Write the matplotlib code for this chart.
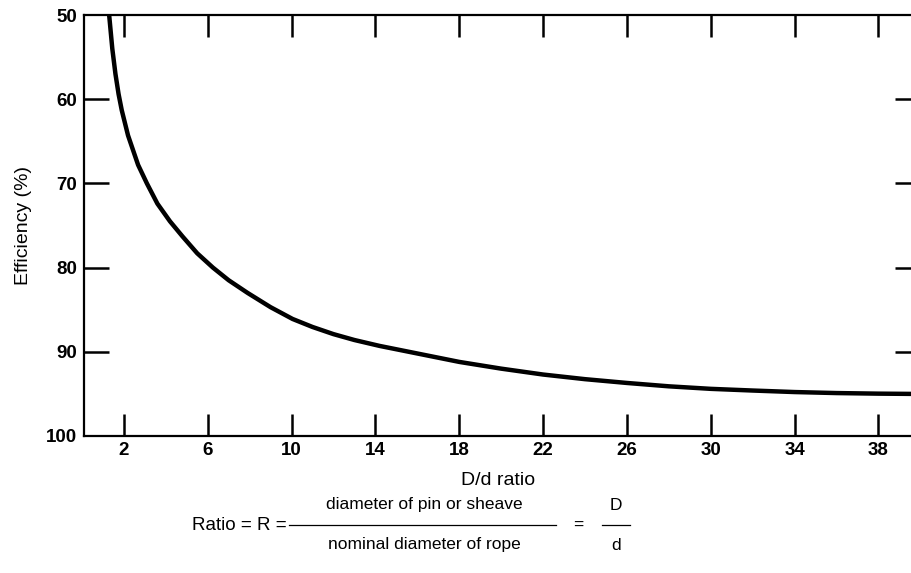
import matplotlib
matplotlib.use("Agg")
import matplotlib.pyplot as plt

plt.rcParams['font.family'] = ['Liberation Sans', 'DejaVu Sans']

# Data
dd_ratio = [1.30, 1.45, 1.60, 1.75, 1.90, 2.20, 2.68, 3.10, 3.60, 4.20, 4.80, 5.50,
            6.25, 7.00, 7.90, 9.00, 10.05, 11.0, 12.0, 13.0, 14.2, 16.0, 18.0,
            20.0, 22.0, 24.0, 26.0, 28.0, 30.0, 32.0, 34.0, 36.0, 38.0, 39.6]
efficiency = [50.0, 54.0, 57.0, 59.4, 61.3, 64.3, 67.8, 70.0, 72.4, 74.5, 76.3, 78.3,
              80.0, 81.5, 83.0, 84.7, 86.1, 87.05, 87.9, 88.6, 89.3, 90.2, 91.2,
              92.0, 92.7, 93.25, 93.7, 94.1, 94.4, 94.6, 94.78, 94.9, 94.97, 95.0]
x_ticks = [2, 6, 10, 14, 18, 22, 26, 30, 34, 38]
y_ticks = [50, 60, 70, 80, 90, 100]
inner_y_ticks = [60, 70, 80, 90]

fig = plt.figure(figsize=(9.12, 5.73), dpi=100)
ax = fig.add_axes([84/912, 1-436/573, 1-84/912, (436-15)/573])

ax.plot(dd_ratio, efficiency, color='black', lw=3.2, solid_joinstyle='round',
        solid_capstyle='butt')

ax.set_xlim(0.1, 39.6)
ax.set_ylim(100, 50)

for s in ['left', 'bottom', 'top']:
    ax.spines[s].set_linewidth(1.6)
ax.spines['right'].set_visible(False)

ax.set_xticks(x_ticks)
ax.set_xticklabels([str(v) for v in x_ticks], fontsize=13.5, fontweight='bold')
ax.set_yticks(y_ticks)
ax.set_yticklabels([str(v) for v in y_ticks], fontsize=13.5, fontweight='bold')

ax.tick_params(axis='x', direction='in', length=16, width=1.8, pad=4, top=False)
ax.tick_params(axis='y', direction='in', length=18, width=1.8, pad=5, right=False)

yt = ax.yaxis.get_major_ticks()
yt[0].tick1line.set_visible(False)
yt[-1].tick1line.set_visible(False)

# top ticks
secx = ax.secondary_xaxis('top')
secx.set_xticks(x_ticks)
secx.set_xticklabels([])
secx.tick_params(direction='in', length=16, width=1.8)
secx.spines['top'].set_visible(False)

# right ticks
secy = ax.secondary_yaxis('right')
secy.set_yticks(inner_y_ticks)
secy.set_yticklabels([])
secy.tick_params(direction='in', length=12, width=1.8)
secy.spines['right'].set_visible(False)

ax.set_xlabel('D/d ratio', fontsize=14, labelpad=10)
ax.set_ylabel('Efficiency (%)', fontsize=14, labelpad=10)

# formula
fs = 12.5
yc = 1 - 525/573
fig.text(287/912, yc, 'Ratio = R =', fontsize=13.5, ha='right', va='center')
fig.add_artist(plt.Line2D([289/912, 556/912], [yc, yc], color='black', lw=0.9))
fig.text(424/912, 1-505/573, 'diameter of pin or sheave', fontsize=fs, ha='center', va='center')
fig.text(424/912, 1-545/573, 'nominal diameter of rope', fontsize=fs, ha='center', va='center')
fig.text(578/912, yc, '=', fontsize=fs, ha='center', va='center')
fig.add_artist(plt.Line2D([602/912, 630/912], [yc, yc], color='black', lw=0.9))
fig.text(616/912, 1-505/573, 'D', fontsize=fs, ha='center', va='center')
fig.text(616/912, 1-545/573, 'd', fontsize=fs, ha='center', va='center')

fig.savefig('out.png', dpi=100)
